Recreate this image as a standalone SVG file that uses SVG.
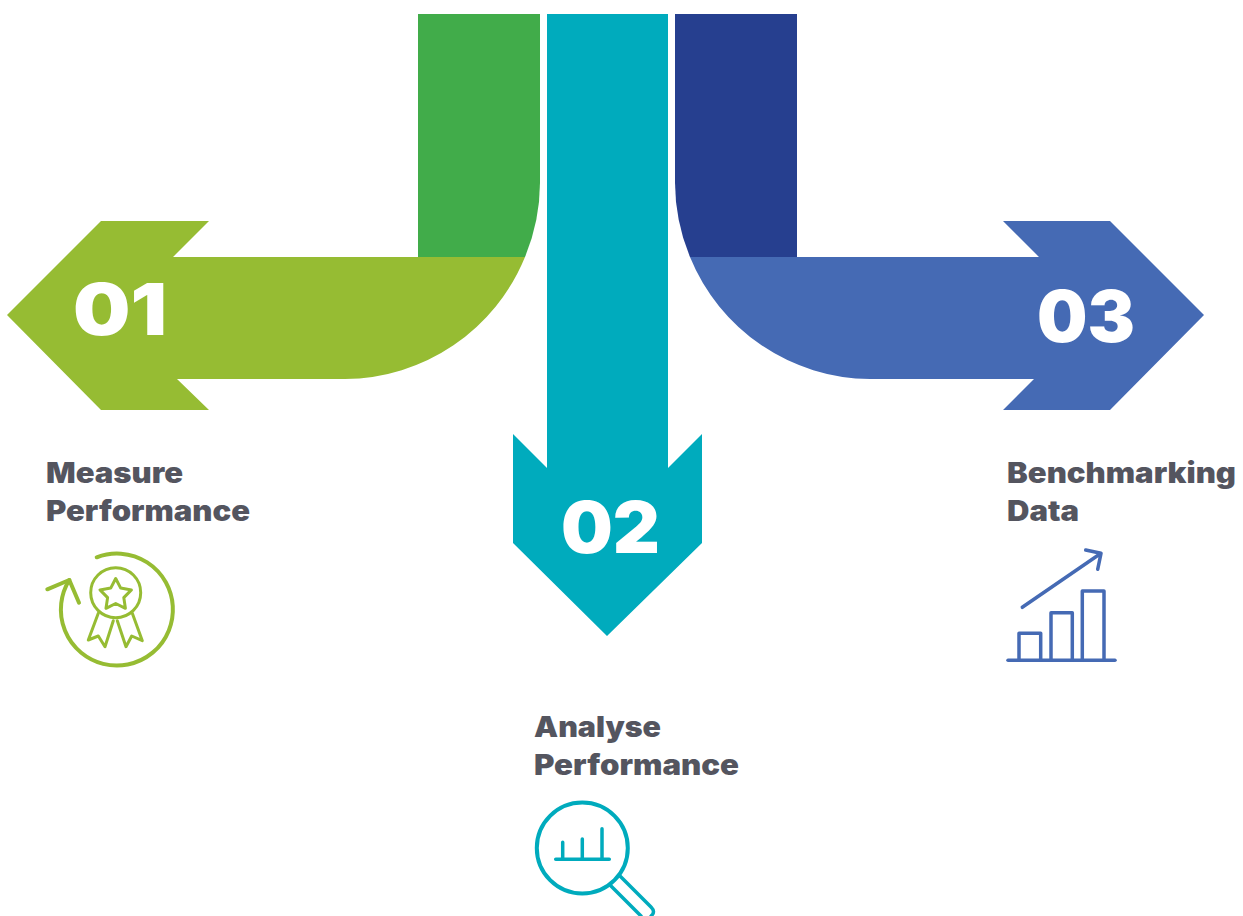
<svg xmlns="http://www.w3.org/2000/svg" width="1243" height="916" viewBox="0 0 1243 916">
<style>
.lbl{font-family:"Inter","Liberation Sans",sans-serif;font-weight:900;font-size:28px;fill:#54555f}
.num{font-family:"Inter","Liberation Sans",sans-serif;font-weight:900;font-size:71px;fill:#fff}
.ic{fill:none;stroke-width:3.5;stroke-linecap:round;stroke-linejoin:round}
</style>
<rect width="1243" height="916" fill="#fff"/>
<g id="node-01">
<path d="M418 14H540V183A196 196 0 0 1 525 257H418Z" fill="#41ac4a"/>
<path d="M7 315L101 221H209L173 257H525A196 196 0 0 1 345 379H177L209 410H101Z" fill="#96bc33"/>
<text class="num" x="73" y="335" textLength="94" lengthAdjust="spacingAndGlyphs">01</text>
<text class="lbl" x="46" y="483" textLength="137" lengthAdjust="spacingAndGlyphs">Measure</text>
<text class="lbl" x="46" y="521" textLength="204" lengthAdjust="spacingAndGlyphs">Performance</text>
<g class="ic" stroke="#96bc33">
<path d="M96.700 557.300A56 56 0 1 1 69.300 580" stroke-width="4"/>
<path d="M47.300 589.300L69.300 580L79 602.700" stroke-width="4"/>
<circle cx="115.700" cy="592.700" r="25" stroke-width="3"/>
<path d="M115.700 578.500L120.700 588.100L131.400 589.900L123.800 597.600L125.400 608.300L115.700 603.500L106 608.300L107.600 597.600L100 589.900L110.700 588.100Z" stroke-width="3"/>
<path d="M98.300 613.300L88.300 640L98.300 636L105 646.700L113.300 620.700M117.300 620.700L126 646.700L131.700 636L142.300 640.700L132.300 613.300" stroke-width="3"/>
</g>
</g>
<g id="node-02">
<path d="M547 14H668V468L702 434V543L607 636L513 543V434L547 468Z" fill="#00abbd"/>
<text class="num" x="561" y="553" textLength="99" lengthAdjust="spacingAndGlyphs">02</text>
<text class="lbl" x="534" y="737" textLength="127" lengthAdjust="spacingAndGlyphs">Analyse</text>
<text class="lbl" x="534" y="775" textLength="205" lengthAdjust="spacingAndGlyphs">Performance</text>
<g class="ic" stroke="#00abbd">
<circle cx="582.300" cy="848" r="45.500" stroke-width="4"/>
<path d="M555.700 859.300H609.300M562.700 859.300V842.300M582.300 859.300V839M602 859.300V828.700"/>
<path d="M620 876L651 907Q656 912 651 916M610 885L641 916"/>
</g>
</g>
<g id="node-03">
<path d="M675 14H797V257H690A196 196 0 0 1 675 183Z" fill="#263f8f"/>
<path d="M1204 315L1110 221H1003L1039 257H690A196 196 0 0 0 870 379H1034L1003 410H1110Z" fill="#456ab4"/>
<text class="num" x="1037" y="342" textLength="98" lengthAdjust="spacingAndGlyphs">03</text>
<text class="lbl" x="1007" y="483" textLength="229" lengthAdjust="spacingAndGlyphs">Benchmarking</text>
<text class="lbl" x="1007" y="521" textLength="72" lengthAdjust="spacingAndGlyphs">Data</text>
<g class="ic" stroke="#456ab4">
<path d="M1008 660.300H1115"/>
<path d="M1019 660.300V633.300H1040.700V660.300M1051 660.300V612.700H1072.300V660.300M1082.300 660.300V591H1104V660.300"/>
<path d="M1022.300 607.300L1101 553.300M1085.700 550L1101 553.300L1097.700 569.300"/>
</g>
</g>
<g id="connectors"></g>
</svg>
